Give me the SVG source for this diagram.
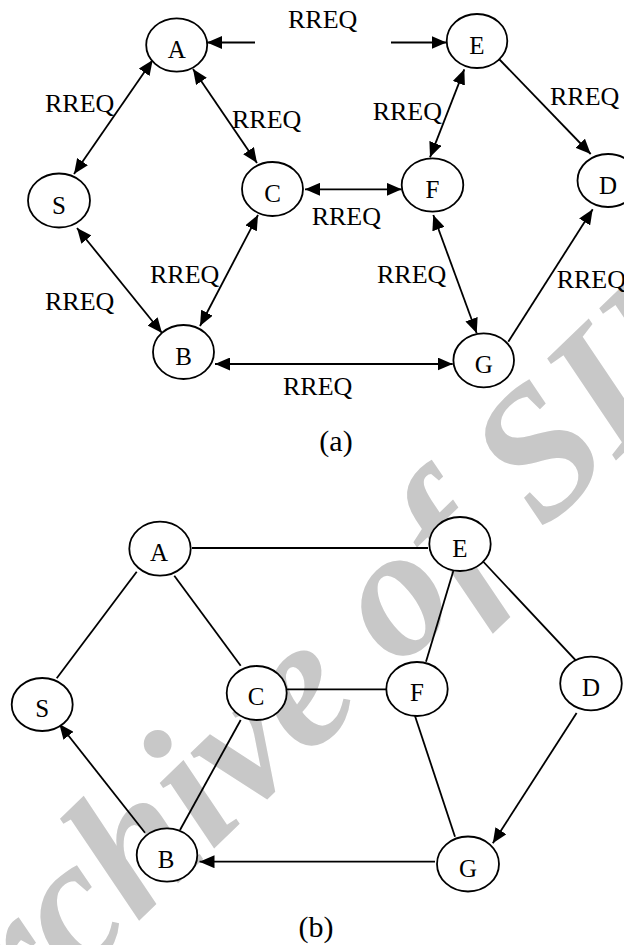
<svg xmlns="http://www.w3.org/2000/svg" width="624" height="945" viewBox="0 0 624 945">
  <style>
    .node ellipse { fill: #ffffff; stroke: #000000; stroke-width: 1.8; }
    .node text { font-family: "Liberation Serif", "Times New Roman", serif; font-size: 25px; text-anchor: middle; fill: #000000; }
    .edge { stroke: #000000; stroke-width: 1.8; fill: none; }
    .lbl { font-family: "Liberation Serif", "Times New Roman", serif; font-size: 26px; fill: #000000; }
    .cap { font-family: "Liberation Serif", "Times New Roman", serif; font-size: 30px; text-anchor: middle; fill: #000000; }
    .mark { font-family: "Liberation Serif", "Times New Roman", serif; font-size: 185px; font-weight: bold; font-style: italic; fill: #c8c8c8; }
  </style>
  <defs>
    <marker id="head" viewBox="0 0 15 13" refX="15" refY="6.5" markerWidth="15" markerHeight="13" markerUnits="userSpaceOnUse" orient="auto-start-reverse">
      <path d="M0,0 L15,6.5 L0,13 z" fill="#000000"/>
    </marker>
  </defs>
  <rect width="624" height="945" fill="#ffffff"/>

  <!-- background stamp -->
  <text class="mark" transform="translate(-63,1116) rotate(-44)">Archive of SID</text>

  <!-- (a) route request flooding -->
  <g id="connectors-a">
    <line class="edge" x1="255" y1="42.5" x2="207" y2="42.5" marker-end="url(#head)"/>
    <line class="edge" x1="391" y1="42.5" x2="446.5" y2="42.5" marker-end="url(#head)"/>
    <line class="edge" x1="152.7" y1="60" x2="74" y2="174" marker-start="url(#head)" marker-end="url(#head)"/>
    <line class="edge" x1="193" y1="69" x2="257" y2="163" marker-start="url(#head)" marker-end="url(#head)"/>
    <line class="edge" x1="77" y1="228" x2="162" y2="333" marker-start="url(#head)" marker-end="url(#head)"/>
    <line class="edge" x1="258" y1="215" x2="200" y2="326" marker-start="url(#head)" marker-end="url(#head)"/>
    <line class="edge" x1="305" y1="189.3" x2="401.7" y2="189.3" marker-start="url(#head)" marker-end="url(#head)"/>
    <line class="edge" x1="464.3" y1="69.3" x2="430" y2="157.3" marker-start="url(#head)" marker-end="url(#head)"/>
    <line class="edge" x1="499" y1="59" x2="590.7" y2="154" marker-end="url(#head)"/>
    <line class="edge" x1="433.3" y1="215" x2="476.7" y2="333.3" marker-start="url(#head)" marker-end="url(#head)"/>
    <line class="edge" x1="508.3" y1="341.7" x2="592.7" y2="209.3" marker-end="url(#head)"/>
    <line class="edge" x1="215" y1="364" x2="452.7" y2="364" marker-start="url(#head)" marker-end="url(#head)"/>
  </g>
  <g id="labels-a">
    <text class="lbl" x="288" y="28">RREQ</text>
    <text class="lbl" x="45" y="112">RREQ</text>
    <text class="lbl" x="232" y="128">RREQ</text>
    <text class="lbl" x="550" y="105">RREQ</text>
    <text class="lbl" x="372.7" y="120">RREQ</text>
    <text class="lbl" x="311.7" y="225">RREQ</text>
    <text class="lbl" x="45" y="310">RREQ</text>
    <text class="lbl" x="150" y="283">RREQ</text>
    <text class="lbl" x="377" y="283">RREQ</text>
    <text class="lbl" x="556.7" y="288">RREQ</text>
    <text class="lbl" x="283" y="395">RREQ</text>
  </g>
  <g id="a-A" class="node"><ellipse cx="176.7" cy="45" rx="30.5" ry="26.7"/><text x="176.7" y="58">A</text></g>
  <g id="a-S" class="node"><ellipse cx="59" cy="200.5" rx="31" ry="27"/><text x="59" y="213.5">S</text></g>
  <g id="a-C" class="node"><ellipse cx="272.5" cy="189" rx="30.5" ry="27"/><text x="272.5" y="202">C</text></g>
  <g id="a-B" class="node"><ellipse cx="183.5" cy="352" rx="30.5" ry="27"/><text x="183.5" y="365">B</text></g>
  <g id="a-E" class="node"><ellipse cx="477" cy="41" rx="30.3" ry="27"/><text x="477" y="54">E</text></g>
  <g id="a-F" class="node"><ellipse cx="432.5" cy="185" rx="30.8" ry="26.7"/><text x="432.5" y="198">F</text></g>
  <g id="a-D" class="node"><ellipse cx="608" cy="180.5" rx="30.5" ry="26.5"/><text x="608" y="193.5">D</text></g>
  <g id="a-G" class="node"><ellipse cx="483.7" cy="360.3" rx="30.3" ry="27"/><text x="483.7" y="373.3">G</text></g>
  <text class="cap" x="336" y="451">(a)</text>

  <!-- (b) reverse path towards the source -->
  <g id="connectors-b">
    <line class="edge" x1="192" y1="548" x2="428" y2="548"/>
    <line class="edge" x1="136.7" y1="571.7" x2="56.7" y2="678.3"/>
    <line class="edge" x1="174.3" y1="575.7" x2="240.7" y2="665.7"/>
    <line class="edge" x1="286.7" y1="689.3" x2="386" y2="689.3"/>
    <line class="edge" x1="453.3" y1="571" x2="426" y2="661.7"/>
    <line class="edge" x1="481.7" y1="560" x2="576" y2="660.7"/>
    <line class="edge" x1="145" y1="832.7" x2="59.3" y2="724" marker-end="url(#head)"/>
    <line class="edge" x1="180" y1="830" x2="240.7" y2="720"/>
    <line class="edge" x1="415" y1="716" x2="455" y2="836.7"/>
    <line class="edge" x1="576.6" y1="713" x2="492.8" y2="843.3" marker-end="url(#head)"/>
    <line class="edge" x1="435" y1="861.7" x2="199.5" y2="861.7" marker-end="url(#head)"/>
  </g>
  <g id="b-A" class="node"><ellipse cx="160" cy="548.7" rx="30.7" ry="27"/><text x="159" y="561">A</text></g>
  <g id="b-E" class="node"><ellipse cx="460" cy="544" rx="30.7" ry="27"/><text x="460" y="557">E</text></g>
  <g id="b-S" class="node"><ellipse cx="42.2" cy="704.5" rx="30.5" ry="26.5"/><text x="42.2" y="716.5">S</text></g>
  <g id="b-C" class="node"><ellipse cx="256.7" cy="693" rx="30" ry="27"/><text x="256" y="705">C</text></g>
  <g id="b-F" class="node"><ellipse cx="417" cy="689" rx="30.7" ry="27"/><text x="417" y="701">F</text></g>
  <g id="b-D" class="node"><ellipse cx="591" cy="683.5" rx="30.8" ry="26.8"/><text x="591" y="695.5">D</text></g>
  <g id="b-B" class="node"><ellipse cx="167" cy="855" rx="30.3" ry="26.7"/><text x="166" y="867.5">B</text></g>
  <g id="b-G" class="node"><ellipse cx="468" cy="864" rx="31" ry="27.5"/><text x="468" y="876.5">G</text></g>
  <text class="cap" x="316" y="937">(b)</text>
</svg>
